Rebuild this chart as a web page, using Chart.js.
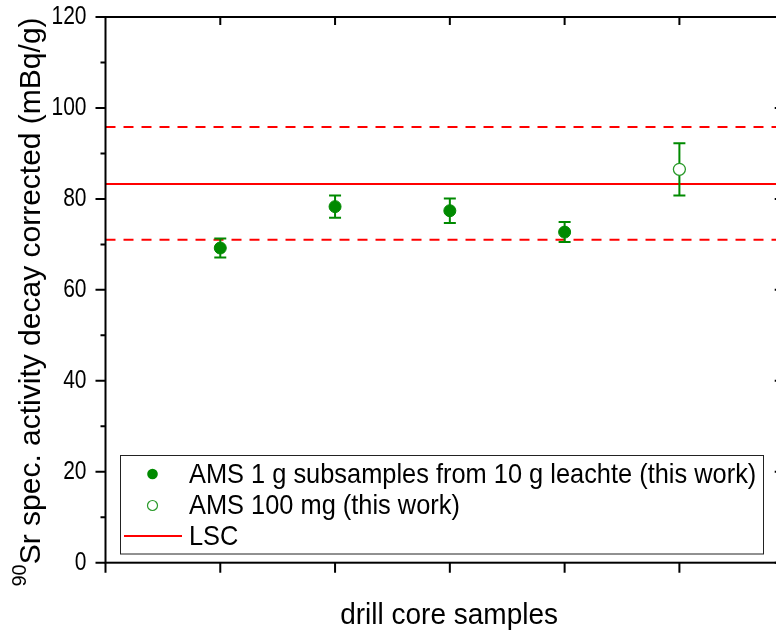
<!DOCTYPE html>
<html>
<head>
<meta charset="utf-8">
<script src="https://cdn.jsdelivr.net/npm/chart.js@4.4.0/dist/chart.umd.min.js"></script>
<style>
  html, body { margin: 0; padding: 0; background: #fff; overflow: hidden; }
  #wrap { width: 776px; height: 633px; overflow: hidden; }
</style>
</head>
<body>
<div id="wrap"><canvas id="srChart" width="790" height="633"></canvas></div>
<script>
// AMS measurements on 1 g subsamples (drill core positions 1-4)
const samplePos = [1, 2, 3, 4];
const amsValues = [69.2, 78.3, 77.4, 72.7];
const amsErrors = [2.1, 2.45, 2.7, 2.2];

// AMS measurement on 100 mg
const ams100Pos = [5];
const ams100Values = [86.5];
const ams100Errors = [5.75];

// LSC value and its uncertainty band
const lscValue = 83.3;
const lscLower = 71.0;
const lscUpper = 95.8;

const yTicks = [0, 20, 40, 60, 80, 100, 120];
const xTicks = [0, 1, 2, 3, 4, 5];
const xRange = [0, 5.9];

const legendLabels = [
    'AMS 1 g subsamples from 10 g leachte (this work)',
    'AMS 100 mg (this work)',
    'LSC'
];
const xTitle = 'drill core samples';
const yTitleSup = '90';
const yTitle = 'Sr spec. activity decay corrected (mBq/g)';

const green = '#008a00';
const red = '#ff0000';
const fontFamily = '"Liberation Sans", Arial, sans-serif';

function hLine(y) {
    return [{ x: xRange[0], y: y }, { x: xRange[1], y: y }];
}

// text is a bit taller than it is wide, so stretch it vertically
function drawText(ctx, text, x, y, size, sy, align, baseline) {
    ctx.save();
    ctx.translate(x, y);
    ctx.scale(1, sy);
    ctx.font = `${size}px ${fontFamily}`;
    ctx.textAlign = align;
    ctx.textBaseline = baseline;
    ctx.fillText(text, 0, 0);
    ctx.restore();
}

// error bars drawn right before each point dataset
const errorBars = {
    id: 'errorBars',
    beforeDatasetDraw(chart, args) {
        const ds = chart.data.datasets[args.index];
        if (!ds.errors) return;
        const ctx = chart.ctx;
        const xs = chart.scales.x, ys = chart.scales.y;
        ctx.save();
        ctx.strokeStyle = green;
        ctx.lineWidth = 2;
        ds.data.forEach((p, i) => {
            const px = xs.getPixelForValue(p.x);
            const top = ys.getPixelForValue(p.y + ds.errors[i]);
            const bot = ys.getPixelForValue(p.y - ds.errors[i]);
            ctx.beginPath();
            ctx.moveTo(px, top); ctx.lineTo(px, bot);
            ctx.moveTo(px - 6, top); ctx.lineTo(px + 6, top);
            ctx.moveTo(px - 6, bot); ctx.lineTo(px + 6, bot);
            ctx.stroke();
        });
        ctx.restore();
    }
};

// frame, inward/outward ticks, tick labels, axis titles and the boxed legend
const frameAndLegend = {
    id: 'frameAndLegend',
    afterDraw(chart) {
        const ctx = chart.ctx;
        const a = chart.chartArea;
        const xs = chart.scales.x, ys = chart.scales.y;
        ctx.save();
        ctx.strokeStyle = '#000';
        ctx.lineWidth = 2;
        ctx.strokeRect(a.left, a.top, a.right - a.left, a.bottom - a.top);

        ctx.beginPath();
        // y ticks: majors + minors halfway between
        yTicks.forEach((v, i) => {
            const py = ys.getPixelForValue(v);
            ctx.moveTo(a.left - 10, py); ctx.lineTo(a.left, py);
            ctx.moveTo(a.right, py); ctx.lineTo(a.right - 8, py);
            if (i < yTicks.length - 1) {
                const my = ys.getPixelForValue((v + yTicks[i + 1]) / 2);
                ctx.moveTo(a.left - 5, my); ctx.lineTo(a.left, my);
                ctx.moveTo(a.right, my); ctx.lineTo(a.right - 4, my);
            }
        });
        xTicks.forEach(v => {
            const px = xs.getPixelForValue(v);
            ctx.moveTo(px, a.bottom); ctx.lineTo(px, a.bottom + 10);
            if (v > xRange[0]) {
                ctx.moveTo(px, a.top); ctx.lineTo(px, a.top + 8);
            }
        });
        ctx.stroke();

        ctx.fillStyle = '#000';
        // y tick labels
        yTicks.forEach(v => {
            drawText(ctx, String(v), a.left - 19, ys.getPixelForValue(v), 21, 1.2, 'right', 'middle');
        });

        // x axis title
        drawText(ctx, xTitle, (a.left + a.right) / 2 + 5, 624, 28, 1.05, 'center', 'alphabetic');

        // y axis title with superscript mass number
        const supSize = 20, mainSize = 30;
        ctx.font = `${supSize}px ${fontFamily}`;
        const wSup = ctx.measureText(yTitleSup).width;
        ctx.font = `${mainSize}px ${fontFamily}`;
        const wMain = ctx.measureText(yTitle).width;
        const cy = 302;
        ctx.save();
        ctx.translate(40, cy + (wSup + wMain) / 2);
        ctx.rotate(-Math.PI / 2);
        ctx.textAlign = 'left';
        ctx.textBaseline = 'alphabetic';
        ctx.font = `${supSize}px ${fontFamily}`;
        ctx.fillText(yTitleSup, 0, -14);
        ctx.font = `${mainSize}px ${fontFamily}`;
        ctx.fillText(yTitle, wSup, 0);
        ctx.restore();

        // legend box
        const lx = 120.5, ly = 455.5, lw = 643, lh = 98.5;
        ctx.fillStyle = '#fff';
        ctx.fillRect(lx, ly, lw, lh);
        ctx.lineWidth = 1;
        ctx.strokeStyle = '#222';
        ctx.strokeRect(lx, ly, lw, lh);

        const rows = [474, 505.5, 536];
        const mx = 152.5;
        ctx.fillStyle = green;
        ctx.beginPath(); ctx.arc(mx, rows[0], 5.3, 0, Math.PI * 2); ctx.fill();
        ctx.fillStyle = '#fff';
        ctx.strokeStyle = '#2a9a2a';
        ctx.lineWidth = 1.2;
        ctx.beginPath(); ctx.arc(mx, rows[1], 5, 0, Math.PI * 2); ctx.fill(); ctx.stroke();
        ctx.strokeStyle = red;
        ctx.lineWidth = 2;
        ctx.beginPath(); ctx.moveTo(124, rows[2]); ctx.lineTo(182, rows[2]); ctx.stroke();

        ctx.fillStyle = '#000';
        legendLabels.forEach((t, i) => drawText(ctx, t, 189, rows[i] + 1, 25.4, 1.12, 'left', 'middle'));
        ctx.restore();
    }
};

const ctx = document.getElementById('srChart').getContext('2d');
const srChart = new Chart(ctx, {
    type: 'scatter',
    data: {
        datasets: [{
            label: legendLabels[0],
            data: samplePos.map((x, i) => ({ x: x, y: amsValues[i] })),
            errors: amsErrors,
            pointRadius: 6,
            pointBackgroundColor: green,
            pointBorderColor: green,
            pointBorderWidth: 1,
            order: 0
        }, {
            label: legendLabels[1],
            data: ams100Pos.map((x, i) => ({ x: x, y: ams100Values[i] })),
            errors: ams100Errors,
            pointRadius: 6,
            pointBackgroundColor: '#fff',
            pointBorderColor: '#2a9a2a',
            pointBorderWidth: 1.3,
            order: 1
        }, {
            label: legendLabels[2],
            data: hLine(lscValue),
            showLine: true,
            borderColor: red,
            borderWidth: 2,
            pointRadius: 0,
            order: 2
        }, {
            label: 'LSC lower',
            data: hLine(lscLower),
            showLine: true,
            borderColor: red,
            borderWidth: 2,
            borderDash: [10, 8],
            pointRadius: 0,
            order: 3
        }, {
            label: 'LSC upper',
            data: hLine(lscUpper),
            showLine: true,
            borderColor: red,
            borderWidth: 2,
            borderDash: [10, 8],
            pointRadius: 0,
            order: 4
        }]
    },
    options: {
        responsive: false,
        devicePixelRatio: 1,
        animation: false,
        layout: { padding: { top: 17, right: 7, left: 0, bottom: 0 } },
        plugins: {
            legend: { display: false },
            tooltip: { enabled: false }
        },
        scales: {
            x: {
                type: 'linear',
                min: xRange[0],
                max: xRange[1],
                grid: { display: false },
                border: { display: false },
                ticks: { display: false, stepSize: 1 },
                afterFit(scale) { scale.height = 70.3; }
            },
            y: {
                min: yTicks[0],
                max: yTicks[yTicks.length - 1],
                grid: { display: false, drawTicks: false },
                border: { display: false },
                ticks: { display: false, stepSize: 20 },
                afterFit(scale) { scale.width = 105.5; }
            }
        }
    },
    plugins: [errorBars, frameAndLegend]
});
</script>
</body>
</html>
